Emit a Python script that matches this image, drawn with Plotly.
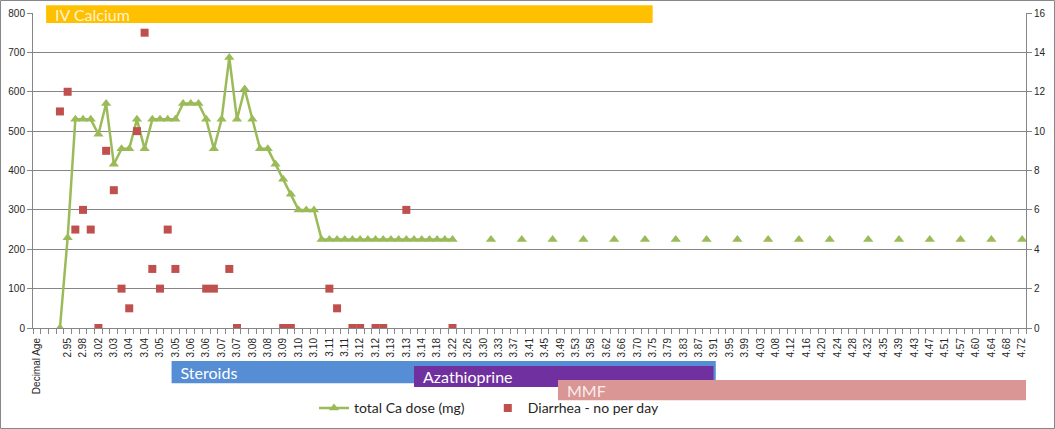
import plotly.graph_objects as go

# category labels (Excel shows every 2nd category label)
age_labels = ["Decimal Age", "", "2.95", "2.98", "3.02", "3.03", "3.04", "3.04",
              "3.05", "3.05", "3.06", "3.06", "3.07", "3.07", "3.08", "3.08",
              "3.09", "3.10", "3.10", "3.11", "3.11", "3.12", "3.12", "3.13",
              "3.13", "3.14", "3.18", "3.22", "3.26", "3.30", "3.33", "3.37",
              "3.41", "3.45", "3.49", "3.53", "3.58", "3.62", "3.66", "3.70",
              "3.75", "3.79", "3.83", "3.87", "3.91", "3.95", "3.99", "4.03",
              "4.08", "4.12", "4.16", "4.20", "4.24", "4.28", "4.32", "4.35",
              "4.39", "4.43", "4.47", "4.51", "4.57", "4.60", "4.64", "4.68",
              "4.72"]
n_cat = 2 * len(age_labels) - 1

# total Ca dose (mg) – row number in the sheet and value
ca_rows = list(range(3, 55)) + [59, 63, 67, 71, 75, 79, 83, 87, 91, 95, 99,
                                103, 108, 112, 116, 120, 124, 128]
ca_dose = [0, 229, 530, 530, 530, 492, 570, 416, 455, 455, 530, 455, 530, 530,
           530, 530, 570, 570, 570, 530, 455, 530, 687, 530, 607, 530, 455, 455,
           416, 378, 340, 300, 300, 300] + [225] * 18 + [225] * 18

# diarrhea - number per day
diar_rows = [3, 4, 5, 6, 7, 8, 9, 10, 11, 12, 13, 14, 15, 16, 17, 18, 22, 23,
             25, 26, 32, 33, 38, 39, 41, 42, 44, 45, 48, 54]
diar_count = [11, 12, 5, 6, 5, 0, 9, 7, 2, 1, 10, 15, 3, 2, 5, 3, 2, 2,
              3, 0, 0, 0, 2, 1, 0, 0, 0, 0, 6, 0]

# treatment periods (in category units)
treat_names = ["IV Calcium", "Steroids", "Azathioprine", "MMF"]
treat_start = [1.2, 17.5, 49.0, 67.7]
treat_end = [80.0, 88.2, 87.9, 128.5]

COLORS = {
    "ca": "#9BBB59",
    "diar": "#C0504D",
    "grid": "#868686",
    "text": "#262626",
    "IV Calcium": "#FFC000",
    "Steroids": "#558ED5",
    "Azathioprine": "#7030A0",
    "MMF": "#D99694",
}
BAND_Y = {  # paper y ranges for the treatment bars
    "IV Calcium": (0.968, 1.025),
    "Steroids": (-0.175, -0.105),
    "Azathioprine": (-0.187, -0.121),
    "MMF": (-0.229, -0.165),
}
TEXT_COL = {"IV Calcium": "#FFF3D0", "Steroids": "white",
            "Azathioprine": "white", "MMF": "#FBEDED"}

ca_y = [None] * n_cat
for r, v in zip(ca_rows, ca_dose):
    ca_y[r] = v
diar_y = [None] * n_cat
for r, v in zip(diar_rows, diar_count):
    diar_y[r] = v
xs = list(range(n_cat))

fig = go.Figure()
fig.add_trace(go.Scatter(
    x=xs, y=ca_y, name="total Ca dose (mg)", mode="lines+markers",
    connectgaps=False, legend="legend",
    line=dict(color=COLORS["ca"], width=2.5),
    marker=dict(symbol="triangle-up", size=9, color=COLORS["ca"]),
))
fig.add_trace(go.Scatter(
    x=xs, y=diar_y, name="Diarrhea - no per day", mode="markers", yaxis="y2",
    legend="legend2",
    marker=dict(symbol="square", size=8, color=COLORS["diar"]),
))

for name, x0, x1 in zip(treat_names, treat_start, treat_end):
    y0, y1 = BAND_Y[name]
    fig.add_shape(type="rect", xref="x", yref="paper", x0=x0, x1=x1,
                  y0=y0, y1=y1, fillcolor=COLORS[name], line_width=0,
                  layer="above",
                  label=dict(text=name, textposition="middle left", padding=6,
                             font=dict(family="Lato", size=16,
                                       color=TEXT_COL[name])))

# chart border
fig.add_shape(type="rect", xref="paper", yref="paper",
              x0=-0.0327, x1=1.0287, y0=-0.319, y1=1.0397,
              line=dict(color=COLORS["grid"], width=1), layer="above")

tick_font = dict(family="Liberation Sans, Arial", size=10, color=COLORS["text"])
legend_style = dict(orientation="h", xanchor="left", y=-0.255,
                    yanchor="middle", bgcolor="rgba(0,0,0,0)",
                    font=dict(family="Lato", size=14, color=COLORS["text"]))
fig.update_layout(
    width=1055, height=429,
    margin=dict(l=33, r=29, t=13, b=101, autoexpand=False),
    paper_bgcolor="white", plot_bgcolor="white",
    font=dict(family="Liberation Sans, Arial", color=COLORS["text"]),
    showlegend=True,
    legend=dict(x=0.283, **legend_style),
    legend2=dict(x=0.458, **legend_style),
    xaxis=dict(range=[-0.5, n_cat - 0.5], tickmode="array",
               tickvals=list(range(0, n_cat, 2)), ticktext=age_labels,
               tickangle=-90, tickfont=tick_font, ticks="outside",
               ticklen=5, tickcolor="rgba(0,0,0,0)", automargin=False,
               showline=True, linecolor=COLORS["grid"], showgrid=False,
               zeroline=False,
               minor=dict(tickmode="linear", tick0=-0.5, dtick=1,
                          ticks="outside", ticklen=5,
                          tickcolor=COLORS["grid"], showgrid=False)),
    yaxis=dict(range=[0, 800], dtick=100, tickfont=tick_font,
               automargin=False,
               showline=True, linecolor=COLORS["grid"], ticks="outside",
               ticklen=5, tickcolor=COLORS["grid"], showgrid=True,
               gridcolor=COLORS["grid"], zeroline=False),
    yaxis2=dict(range=[0, 16], dtick=2, overlaying="y", side="right",
                tickfont=tick_font, showline=True, linecolor=COLORS["grid"],
                automargin=False,
                ticks="outside", ticklen=5, tickcolor=COLORS["grid"],
                showgrid=False, zeroline=False),
)

# the page body has a default 8px margin; remove it so the chart sits at 0,0
fig.write_html("out.html", config={"displayModeBar": False},
               post_script="document.body.style.margin='0';")
